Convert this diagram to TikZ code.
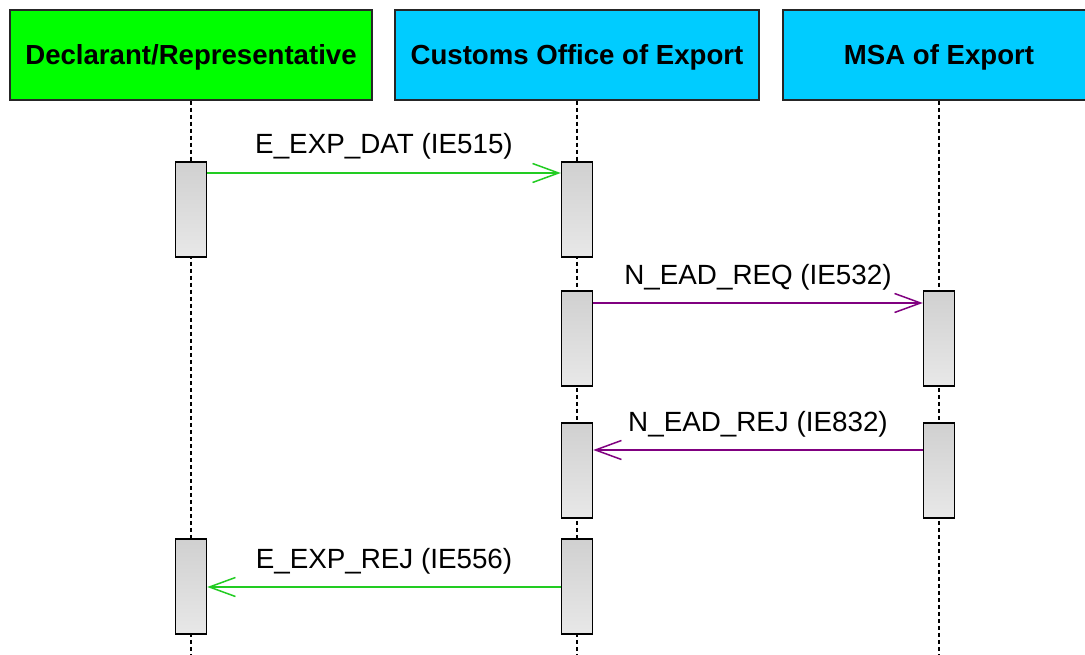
\documentclass[tikz,border=0pt]{standalone}
\usepackage{fontspec}
\setmainfont{Liberation Sans}
\usetikzlibrary{arrows.meta}
\definecolor{hdgreen}{RGB}{0,255,0}
\definecolor{hdcyan}{RGB}{0,204,255}
\definecolor{msggreen}{RGB}{34,204,34}
\definecolor{msgpurple}{RGB}{128,0,128}
\definecolor{acttop}{RGB}{208,208,208}
\definecolor{actbot}{RGB}{232,232,232}
\tikzset{
  header/.style={draw=black!85, line width=1.5pt, rectangle, inner sep=0pt,
    minimum height=90pt, text depth=0pt, font=\fontsize{27.6}{31}\selectfont\bfseries},
  lifeline/.style={line width=1.3pt, dash pattern=on 4pt off 3pt},
  actbox/.style={draw=black, line width=1.5pt, rectangle, inner sep=0pt,
    minimum width=31pt, minimum height=95pt, top color=acttop, bottom color=actbot},
  msg/.style={line width=1.6pt, -{Straight Barb[length=26pt,width=19pt,line width=1.5pt]}},
  lbl/.style={font=\fontsize{27.8}{31}\selectfont, anchor=base, inner sep=0pt, text=black}
}
\begin{document}
\begin{tikzpicture}[x=1pt,y=-1pt]
\clip (0,0) rectangle (1085,655);
\fill[white] (0,0) rectangle (1085,655);
% headers
\node[header, fill=hdgreen, minimum width=362pt] (hd) at (191,55) {Declarant/Representative};
\node[header, fill=hdcyan, minimum width=364pt] (hc) at (577,55) {Customs Office of Export};
\node[header, fill=hdcyan, minimum width=312pt] (hm) at (939,55) {MSA of Export};
% lifeline ends
\coordinate (ed) at (191,656);
\coordinate (ec) at (577,656);
\coordinate (em) at (939,656);
\draw[lifeline] (hd.south) -- (ed);
\draw[lifeline] (hc.south) -- (ec);
\draw[lifeline] (hm.south) -- (em);
% activation boxes
\node[actbox] (d1) at (191,209.5) {};
\node[actbox] (d2) at (191,586.5) {};
\node[actbox] (c1) at (577,209.5) {};
\node[actbox] (c2) at (577,338.5) {};
\node[actbox] (c3) at (577,470.5) {};
\node[actbox] (c4) at (577,586.5) {};
\node[actbox] (m1) at (939,338.5) {};
\node[actbox] (m2) at (939,470.5) {};
% message end points
\coordinate (a1s) at (d1.east |- 0,173);
\coordinate (a1e) at (c1.west |- 0,173);
\coordinate (a2s) at (c2.east |- 0,303);
\coordinate (a2e) at (m1.west |- 0,303);
\coordinate (a3s) at (m2.west |- 0,450);
\coordinate (a3e) at (c3.east |- 0,450);
\coordinate (a4s) at (c4.west |- 0,587);
\coordinate (a4e) at (d2.east |- 0,587);
% messages
\draw[msg, draw=msggreen] (a1s) -- node[lbl, yshift=19pt] {E\_EXP\_DAT (IE515)} (a1e);
\draw[msg, draw=msgpurple] (a2s) -- node[lbl, yshift=19pt] {N\_EAD\_REQ (IE532)} (a2e);
\draw[msg, draw=msgpurple] (a3s) -- node[lbl, yshift=19pt] {N\_EAD\_REJ (IE832)} (a3e);
\draw[msg, draw=msggreen] (a4s) -- node[lbl, yshift=19pt] {E\_EXP\_REJ (IE556)} (a4e);
\end{tikzpicture}
\end{document}
